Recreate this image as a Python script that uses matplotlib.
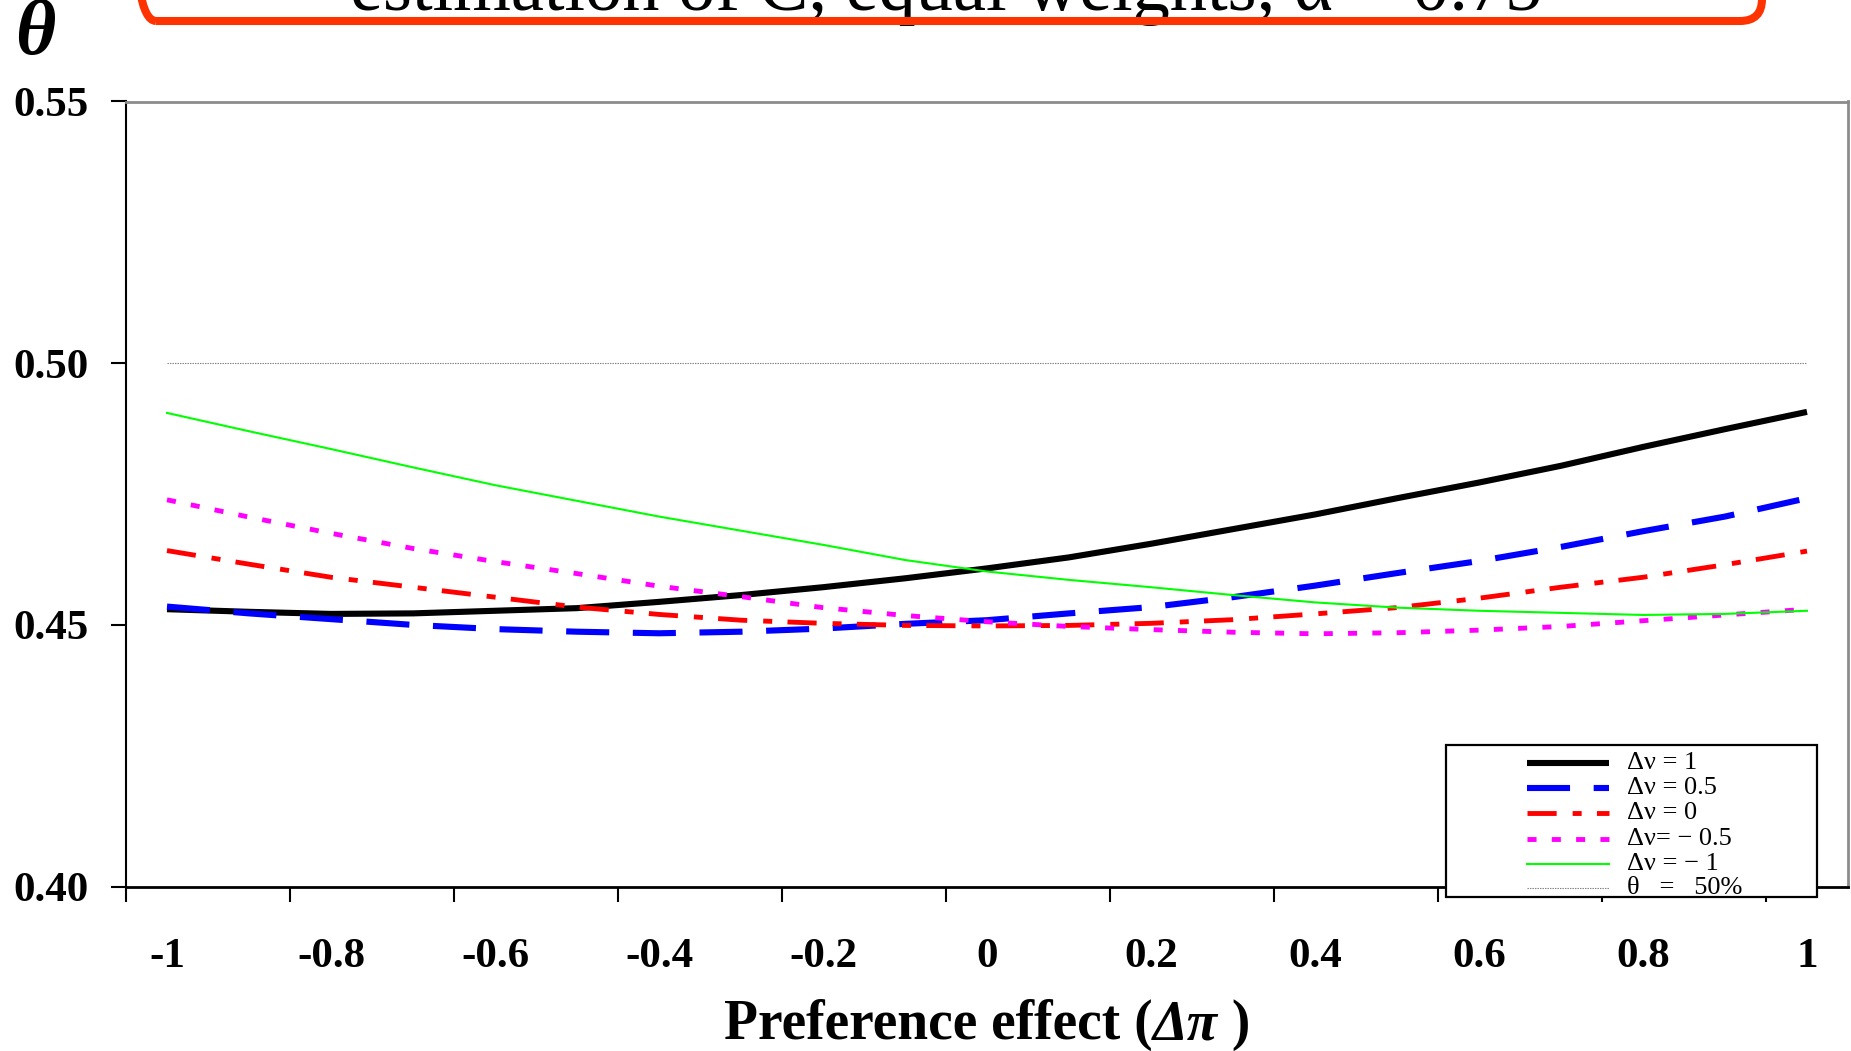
import matplotlib
matplotlib.use("Agg")
import matplotlib.pyplot as plt
from matplotlib.patches import FancyBboxPatch, Rectangle
from matplotlib.lines import Line2D

plt.rcParams['font.family'] = ['Liberation Serif', 'DejaVu Serif']
plt.rcParams['lines.scale_dashes'] = False

# ---------------- data ----------------
pref_effect = [-1.0, -0.9, -0.8, -0.7, -0.6, -0.5, -0.4, -0.3, -0.2, -0.1, 0.0,
               0.1, 0.2, 0.3, 0.4, 0.5, 0.6, 0.7, 0.8, 0.9, 1.0]

theta_dnu_1 = [0.4530, 0.4525, 0.4521, 0.4522, 0.4527, 0.4532, 0.4544, 0.4557, 0.4572, 0.4589, 0.4608,
               0.4629, 0.4655, 0.4683, 0.4711, 0.4742, 0.4772, 0.4804, 0.4840, 0.4874, 0.4907]
theta_dnu_05 = [0.4535, 0.4522, 0.4511, 0.4500, 0.4492, 0.4487, 0.4484, 0.4487, 0.4493, 0.4502, 0.4509,
                0.4522, 0.4534, 0.4553, 0.4575, 0.4599, 0.4622, 0.4649, 0.4679, 0.4707, 0.4742]
theta_dnu_0 = [0.4642, 0.4616, 0.4591, 0.4572, 0.4553, 0.4534, 0.4520, 0.4509, 0.4503, 0.4499, 0.4498,
               0.4499, 0.4503, 0.4510, 0.4521, 0.4533, 0.4551, 0.4572, 0.4591, 0.4615, 0.4641]
theta_dnu_m05 = [0.4739, 0.4706, 0.4675, 0.4646, 0.4621, 0.4598, 0.4574, 0.4554, 0.4533, 0.4518, 0.4506,
                 0.4497, 0.4491, 0.4486, 0.4483, 0.4485, 0.4490, 0.4497, 0.4508, 0.4519, 0.4530]
theta_dnu_m1 = [0.4905, 0.4870, 0.4836, 0.4801, 0.4767, 0.4737, 0.4707, 0.4680, 0.4653, 0.4624, 0.4602,
                0.4586, 0.4572, 0.4557, 0.4543, 0.4533, 0.4527, 0.4523, 0.4519, 0.4521, 0.4527]
threshold = 0.50

series_labels = ["Δν = 1", "Δν = 0.5", "Δν = 0", "Δν= − 0.5", "Δν = − 1", "θ   =   50%"]
x_tick_values = [-1.0, -0.8, -0.6, -0.4, -0.2, 0.0, 0.2, 0.4, 0.6, 0.8, 1.0]
x_tick_labels = ["-1", "-0.8", "-0.6", "-0.4", "-0.2", "0", "0.2", "0.4", "0.6", "0.8", "1"]
y_tick_values = [0.40, 0.45, 0.50, 0.55]
y_tick_labels = ["0.40", "0.45", "0.50", "0.55"]
title_text = "estimation of C, equal weights, α = 0.75"
xlabel_parts = ["Preference effect (", "Δπ", " )"]

# ---------------- styles ----------------
styles = [
    dict(color='#000000', lw=4.4, solid_capstyle='butt'),
    dict(color='#0000FF', lw=4.4, dashes=(31, 17), dash_capstyle='butt'),
    dict(color='#FF0000', lw=3.5, dashes=(21, 11.5, 6.5, 11), dash_capstyle='butt'),
    dict(color='#FF00FF', lw=3.5, dashes=(6.5, 11), dash_capstyle='butt'),
    dict(color='#00FF00', lw=1.5),
    dict(color='#808080', lw=0.8, dashes=(1, 0.8)),
]

W, H = 1851, 1051
fig = plt.figure(figsize=(W / 100, H / 100), dpi=100)
ax = fig.add_axes([126 / W, 1 - 886.6 / H, (1848 - 126) / W, (886.6 - 101.5) / H])

all_series = [theta_dnu_1, theta_dnu_05, theta_dnu_0, theta_dnu_m05, theta_dnu_m1]
for ys, st in zip(all_series, styles[:5]):
    ax.plot(pref_effect, ys, **st)
ax.plot([pref_effect[0], pref_effect[-1]], [threshold, threshold], **styles[5])

ax.set_xlim(-1.05, 1.05)
ax.set_ylim(0.40, 0.55)

ax.set_xticks(x_tick_values)
ax.set_xticklabels(x_tick_labels, fontsize=31, fontweight='bold')
ax.set_xticks([v - 0.05 for v in x_tick_values[:-1]] + [0.95], minor=True)
ax.tick_params(axis='x', which='major', length=0, pad=37)
ax.tick_params(axis='x', which='minor', length=10.8, width=1.5, direction='out', color='black')

ax.set_yticks(y_tick_values)
ax.set_yticklabels(y_tick_labels, fontsize=31, fontweight='bold')
ax.tick_params(axis='y', which='major', length=10.8, width=1.5, direction='out', pad=16)

for side in ['top', 'right']:
    ax.spines[side].set_color('#8C8C8C')
    ax.spines[side].set_linewidth(2.0)
ax.spines['left'].set_color('black')
ax.spines['left'].set_linewidth(1.5)
ax.spines['bottom'].set_color('black')
ax.spines['bottom'].set_linewidth(2.0)

# theta
fig.text(35 / W, 1 - 36 / H, "θ", fontsize=56, fontweight='bold', style='italic',
         ha='center', va='center')

# title (cut off at top) with red rounded box
t = fig.text(946 / W, 1 - 10 / H, title_text, fontsize=48, ha='center', va='baseline')

# x axis label in three pieces (italic Δπ)
xl_styles = ['normal', 'italic', 'normal']
xl_texts = [fig.text(0, 1 - 1039 / H, s, fontsize=40, fontweight='bold', style=sty,
                     ha='left', va='baseline') for s, sty in zip(xlabel_parts, xl_styles)]

fig.canvas.draw()
renderer = fig.canvas.get_renderer()
w = t.get_window_extent(renderer).width
t.set_fontsize(48 * 1192 / w)

widths = [tx.get_window_extent(renderer).width for tx in xl_texts]
total = sum(widths)
x0 = 987 - total / 2
for tx, wd in zip(xl_texts, widths):
    tx.set_x(x0 / W)
    x0 += wd

box = FancyBboxPatch((134 / 100, (H - 21) / 100), (1762 - 134) / 100, 1.5,
                     boxstyle='round,pad=0,rounding_size=0.22',
                     transform=fig.dpi_scale_trans, fill=False, ec='#FF3300', lw=5.8,
                     clip_on=False, zorder=4)
fig.add_artist(box)

# legend
frame = Rectangle((1446 / 100, (H - 897) / 100), (1817 - 1446) / 100, (897 - 745) / 100,
                  transform=fig.dpi_scale_trans, fc='white', ec='black', lw=1.6, zorder=5)
fig.add_artist(frame)
row_y = [763, 788, 813, 839, 864, 888]
for lab, st, yy in zip(series_labels, styles, row_y):
    ln = Line2D([1527 / 100, 1609 / 100], [(H - yy) / 100] * 2, transform=fig.dpi_scale_trans,
                zorder=6, **st)
    fig.add_artist(ln)
    fig.text(1627 / W, 1 - yy / H, lab, fontsize=19, ha='left', va='center', zorder=6)

fig.savefig("out.png", dpi=100)
